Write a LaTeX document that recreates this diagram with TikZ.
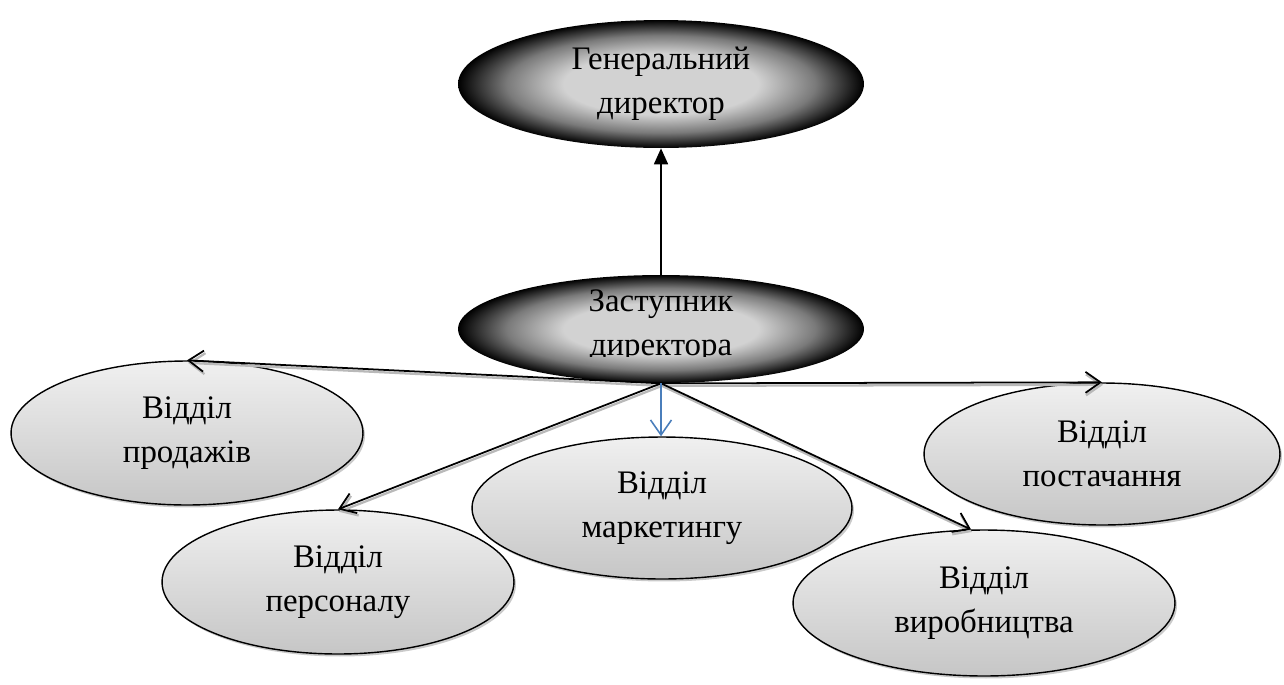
\documentclass[tikz,border=0pt]{standalone}
\usepackage{fontspec}
\setmainfont{Liberation Serif}
\usetikzlibrary{shapes.geometric,arrows.meta,shadows}
\definecolor{cin}{HTML}{D2D2D2}
\definecolor{cmid}{HTML}{7A7A7A}
\definecolor{lgA}{HTML}{F0F0F0}
\definecolor{lgB}{HTML}{C6C6C6}
\definecolor{wordblue}{HTML}{4A7EBB}
\pgfdeclareradialshading{darkell}{\pgfpoint{0bp}{0bp}}{color(0bp)=(cin); color(12bp)=(cin); color(19bp)=(cmid); color(25bp)=(black); color(50bp)=(black)}
\begin{document}
\begin{tikzpicture}[x=0.02cm,y=-0.02cm,
  txt/.style={align=center, font=\fontsize{18.7}{25}\selectfont},
  ell/.style={ellipse, inner sep=0pt, txt},
  dark/.style={ell, shading=darkell},
  dept/.style={ell, draw=black, line width=0.8pt, top color=lgA, bottom color=lgB,
    drop shadow={shadow xshift=0.04cm, shadow yshift=-0.05cm, fill=gray!70, opacity=0.6}},
  conn/.style={line width=1pt, draw=black,
    -{Straight Barb[length=0.3cm,width=0.42cm,line width=1pt]},
    preaction={draw=gray!55, line width=1.3pt, transform canvas={xshift=0.02cm,yshift=-0.05cm},
      -{Straight Barb[length=0.3cm,width=0.42cm,line width=1.3pt]}}},
  blueconn/.style={line width=0.9pt, draw=wordblue,
    -{Straight Barb[length=0.3cm,width=0.42cm,line width=0.9pt]}},
  uparrow/.style={line width=1pt, -{Triangle[length=0.32cm,width=0.28cm]}}
]
\useasboundingbox (0,0) rectangle (1284,684);

% top nodes
\node[dark, minimum width=8.12cm, minimum height=2.56cm] (gen) at (661,84) {Генеральний\\директор};
\node[dark, minimum width=8.12cm, minimum height=2.16cm] (zast) at (661,329) {};
\begin{scope}
  \clip (440,260) rectangle (880,356);
  \node[txt] (zasttext) at (661,326) {Заступник\\директора};
\end{scope}

% departments
\node[dept, minimum width=7.04cm, minimum height=2.88cm] (prod) at (187,433) {Відділ\\продажів};
\node[dept, minimum width=7.12cm, minimum height=2.84cm] (post) at (1102,454) {Відділ\\постачання};
\node[dept, minimum width=7.6cm, minimum height=2.84cm] (mark) at (662,508) {Відділ\\маркетингу};
\node[dept, minimum width=7.04cm, minimum height=2.88cm] (pers) at (338,582) {Відділ\\персоналу};
\node[dept, minimum width=7.64cm, minimum height=2.92cm] (vyr) at (984,603) {Відділ\\виробництва};

% connectors
\draw[uparrow] (zast.north) -- (gen.south);
\draw[conn] (zast.south) -- (prod.north);
\draw[conn] (zast.south) -- (post.north);
\draw[conn] (zast.south) -- (pers.north);
\draw[conn] (zast.south) -- (vyr.100);
\draw[blueconn] (zast.south) -- (zast.south |- mark.north);
\end{tikzpicture}
\end{document}
